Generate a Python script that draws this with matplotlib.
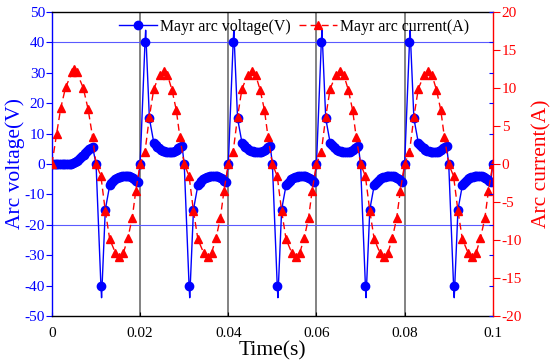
import numpy as np
import matplotlib
matplotlib.use("Agg")
import matplotlib.pyplot as plt
from matplotlib.lines import Line2D
from matplotlib.ticker import FuncFormatter

plt.rcParams["font.family"] = ["Liberation Serif", "DejaVu Serif"]
plt.rcParams["font.size"] = 11

# ---- data (times in ms, offsets within a half period) ----
period_ms = 20.0
n_halves = 10

# first half period of voltage (arc starts from rest)
v_first_t = [0, 0.4, 0.8, 1.2, 1.6, 2.0, 2.4, 2.8, 3.2, 3.6, 4.0, 4.4, 4.8, 5.2,
             5.6, 6.0, 6.4, 6.8, 7.2, 7.6, 8.0, 8.4, 8.8, 9.2]
v_first_v = [0, 0, 0, 0, 0, 0, 0, 0, 0, 0, 0, 0.1, 0.3, 0.6,
             1.0, 1.4, 1.9, 2.5, 3.1, 3.7, 4.3, 4.8, 5.2, 5.7]
# every later half period (sign alternates)
v_half_t = [0, 1.1, 2.1, 3.1, 3.5, 3.9, 4.3, 4.7, 5.1, 5.5, 5.9, 6.3, 6.7, 7.1,
            7.5, 7.9, 8.3, 8.7, 9.1, 9.5]
v_half_v = [0, 40, 15, 7, 6.2, 5.6, 5.1, 4.7, 4.4, 4.2, 4.0, 3.9, 3.9, 4.0,
            4.1, 4.4, 4.7, 5.1, 5.5, 6.0]
spike_t, spike_v = 1.25, 44.0   # line overshoot right after the re-ignition peak

i_first_t = [0, 1.06, 2.0, 3.1, 4.6, 5.1, 5.6, 7.1, 8.2, 9.2]
i_first_v = [0, 4.0, 7.4, 10.1, 12.1, 12.5, 12.1, 10.0, 7.2, 3.6]
i_half_t = [0, 1.1, 2.1, 3.1, 4.4, 5.3, 6.2, 7.2, 8.2, 9.0]
i_half_v = [0, 1.6, 6.2, 9.9, 11.7, 12.3, 11.7, 9.8, 7.1, 3.6]

# assemble the 5 periods
vt, vv, vmark = [], [], []
it, iv = [], []
for k in range(n_halves):
    t0 = k * period_ms / 2
    s = 1 if k % 2 == 0 else -1
    if k == 0:
        for a, b in zip(v_first_t, v_first_v):
            vt.append(t0 + a); vv.append(b); vmark.append(True)
        it += [t0 + a for a in i_first_t]; iv += list(i_first_v)
        continue
    for j, (a, b) in enumerate(zip(v_half_t, v_half_v)):
        vt.append(t0 + a); vv.append(s * b); vmark.append(True)
        if j == 1:
            vt.append(t0 + spike_t); vv.append(s * spike_v); vmark.append(False)
    it += [t0 + a for a in i_half_t]; iv += [s * b for b in i_half_v]
vt.append(100.0); vv.append(0); vmark.append(True)
it.append(100.0); iv.append(0)
vt = np.array(vt) / 1000; it = np.array(it) / 1000

blue, red = "#0000ff", "#ff0000"
fig = plt.figure(figsize=(5.5, 3.64), dpi=100)
ax1 = fig.add_axes([0.0945, 0.132, 0.8015, 0.835])
ax2 = ax1.twinx()

for x in [0.02, 0.04, 0.06, 0.08]:
    ax1.axvline(x, color="#606060", lw=1.1, zorder=1)
for y in [40, -20]:
    ax1.axhline(y, color="#5a5aff", lw=0.8, zorder=1)

ax1.plot(vt, vv, "-", color=blue, lw=1.0, marker="o", ms=6,
         markevery=vmark, zorder=3)
ax2.plot(it, iv, "--", color=red, lw=1.0, marker="^", ms=6.2,
         dashes=(5, 3), zorder=3)

ax1.set_xlim(0, 0.1); ax1.set_ylim(-50, 50)
ax2.set_ylim(-20, 20)
ax1.set_xticks([0, 0.02, 0.04, 0.06, 0.08, 0.1])
ax1.set_xticklabels(["0", "0.02", "0.04", "0.06", "0.08", "0.1"])
ax1.set_yticks(range(-50, 51, 10))
ax2.set_yticks(range(-20, 21, 5))
fmt = FuncFormatter(lambda v, p: f"{int(v)}".replace("\u2212", "-"))
ax1.yaxis.set_major_formatter(fmt); ax2.yaxis.set_major_formatter(fmt)

ax1.tick_params(axis="y", direction="out", colors=blue, length=4, pad=1, labelsize=11)
ax1.tick_params(axis="x", direction="in", length=3, pad=8, colors="black", labelsize=11)
ax2.tick_params(axis="y", direction="out", colors=red, length=5, pad=1.5, labelsize=11)

# blue inner ticks of the voltage axis on the right side
ax3 = ax1.twinx()
ax3.set_ylim(-50, 50); ax3.set_yticks(range(-50, 51, 10))
ax3.tick_params(axis="y", direction="in", colors=blue, length=3, labelright=False)
for sp in ax3.spines.values():
    sp.set_visible(False)

ax1.spines["left"].set_color(blue)
ax1.spines["right"].set_visible(False)
ax2.spines["right"].set_color(red)
ax2.spines["left"].set_visible(False)
for sp in ["top", "bottom"]:
    ax2.spines[sp].set_visible(False)
for sp in ax1.spines.values():
    sp.set_linewidth(1.0)
ax2.spines["right"].set_linewidth(1.0)

ax1.set_xlabel("Time(s)", fontsize=15.5, labelpad=1)
ax1.set_ylabel("Arc voltage(V)", color=blue, fontsize=15.5, labelpad=0)
ax2.set_ylabel("Arc current(A)", color=red, fontsize=15.5, labelpad=7)

handles = [Line2D([], [], color=blue, lw=1.0, marker="o", ms=6),
           Line2D([], [], color=red, lw=1.0, ls="--", dashes=(5, 3), marker="^", ms=6.2)]
ax2.legend(handles, ["Mayr arc voltage(V)", "Mayr arc current(A)"], fontsize=11.4,
           loc="upper center", bbox_to_anchor=(0.549, 1.015), ncol=2, frameon=False,
           handlelength=2.4, handletextpad=0.2, columnspacing=0.5, borderpad=0.2)

fig.savefig("out.png", dpi=100)
